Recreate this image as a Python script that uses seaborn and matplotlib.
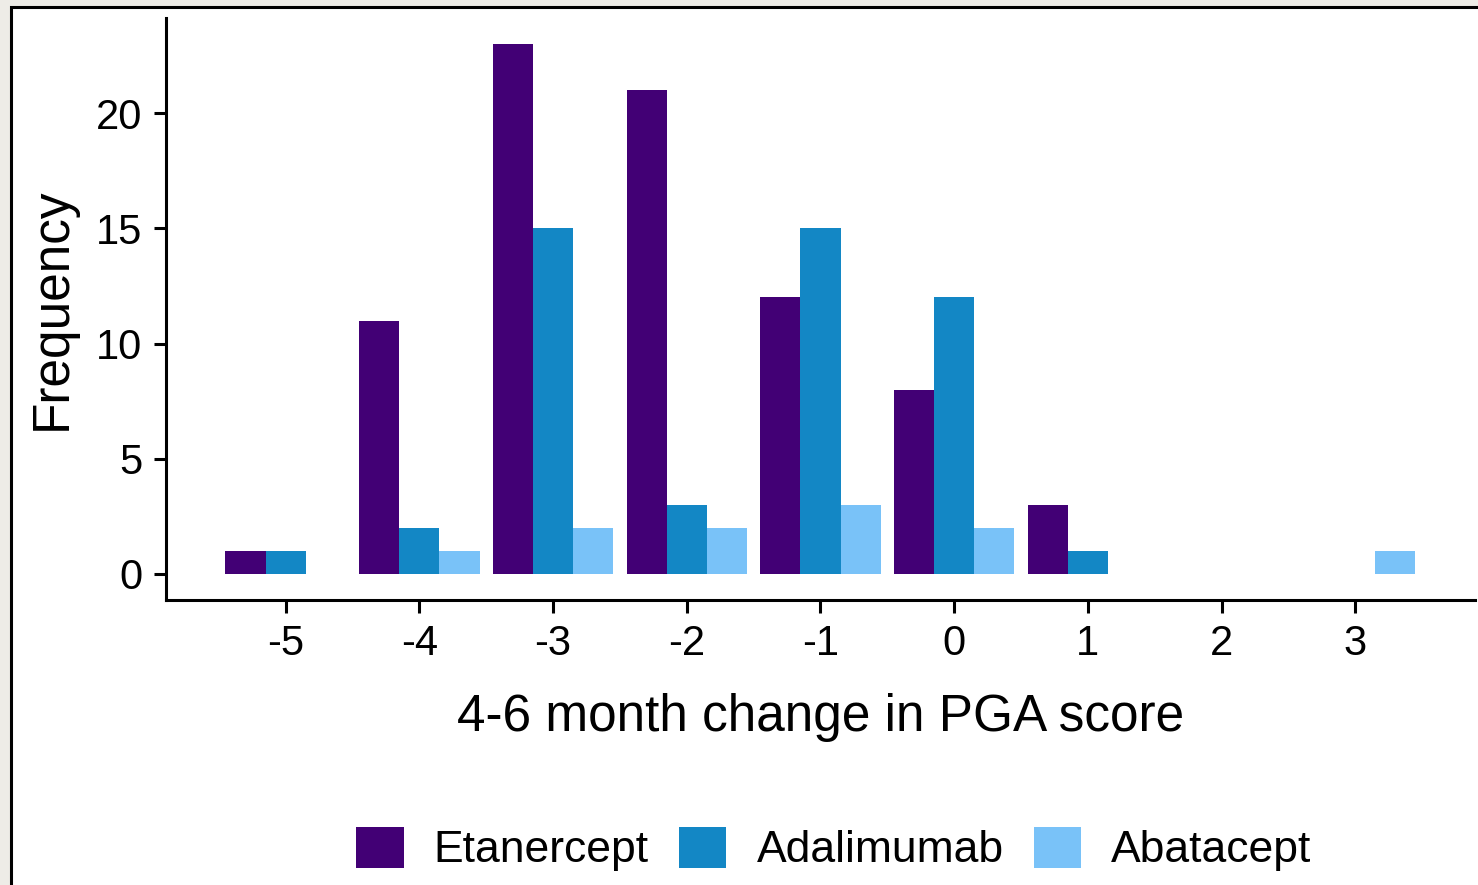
import matplotlib.pyplot as plt
import matplotlib.patches as mpatches
import pandas as pd
import seaborn as sns

sns.set_style('white')
plt.rcParams['font.family'] = ['Liberation Sans', 'DejaVu Sans']
plt.rcParams['text.color'] = 'black'
plt.rcParams['axes.labelcolor'] = 'black'

# Counts (only non-zero bins)
etanercept_x = [-5, -4, -3, -2, -1, 0, 1]
etanercept_n = [1, 11, 23, 21, 12, 8, 3]
adalimumab_x = [-5, -4, -3, -2, -1, 0, 1]
adalimumab_n = [1, 2, 15, 3, 15, 12, 1]
abatacept_x = [-4, -3, -2, -1, 0, 3]
abatacept_n = [1, 2, 2, 3, 2, 1]

drugs = ['Etanercept', 'Adalimumab', 'Abatacept']
colors = ['#420075', '#1387C5', '#79C2F8']
x_ticks = [-5, -4, -3, -2, -1, 0, 1, 2, 3]
y_ticks = [0, 5, 10, 15, 20]


def main():
    rows = []
    for drug, xs, ns in zip(drugs,
                            [etanercept_x, adalimumab_x, abatacept_x],
                            [etanercept_n, adalimumab_n, abatacept_n]):
        for x, n in zip(xs, ns):
            rows.append({'change': x, 'count': n, 'drug': drug})
    df = pd.DataFrame(rows)

    fig = plt.figure(figsize=(14.78, 8.85), dpi=100, facecolor='#EEECE7')
    # white page with black frame, as in the screenshot
    fig.patches.append(mpatches.Rectangle(
        (11 / 1478, -0.1), 1.2, 1 - 7 / 885 + 0.1, transform=fig.transFigure,
        facecolor='white', edgecolor='black', linewidth=2.2, zorder=-10))

    ax = fig.add_axes([166 / 1478, 1 - 600 / 885, (1475 - 166) / 1478, (600 - 18) / 885])
    ax.set_facecolor('white')
    sns.barplot(data=df, x='change', y='count', hue='drug', hue_order=drugs,
                palette=colors, saturation=1, native_scale=True, width=0.9, gap=0,
                linewidth=0, errorbar=None, ax=ax)

    ax.set_xlim(-5.895, 3.895)
    ax.set_ylim(-1.15, 24.15)
    ax.set_xticks(x_ticks)
    ax.set_xticklabels([str(t) for t in x_ticks])
    ax.set_yticks(y_ticks)
    for side in ['top', 'right']:
        ax.spines[side].set_visible(False)
    for side in ['left', 'bottom']:
        ax.spines[side].set_linewidth(2.2)
        ax.spines[side].set_color('black')
    ax.tick_params(axis='both', which='major', direction='out', length=9,
                   width=2.2, labelsize=30, pad=8, colors='black', left=True, bottom=True)

    ax.set_xlabel('4-6 month change in PGA score', fontsize=37, labelpad=21, color='black')
    ax.set_ylabel('Frequency', fontsize=37, labelpad=14, color='black')

    handles, labels = ax.get_legend_handles_labels()
    ax.legend_.remove()
    fig.legend(handles, labels, loc='center', bbox_to_anchor=(834 / 1478, 1 - 849 / 885),
               ncol=3, frameon=False, fontsize=32, handlelength=1.06, handleheight=1.06,
               handletextpad=0.68, columnspacing=0.68, borderaxespad=0,
               labelcolor='black')

    plt.savefig('out.png', dpi=100, facecolor=fig.get_facecolor())


if __name__ == '__main__':
    main()
